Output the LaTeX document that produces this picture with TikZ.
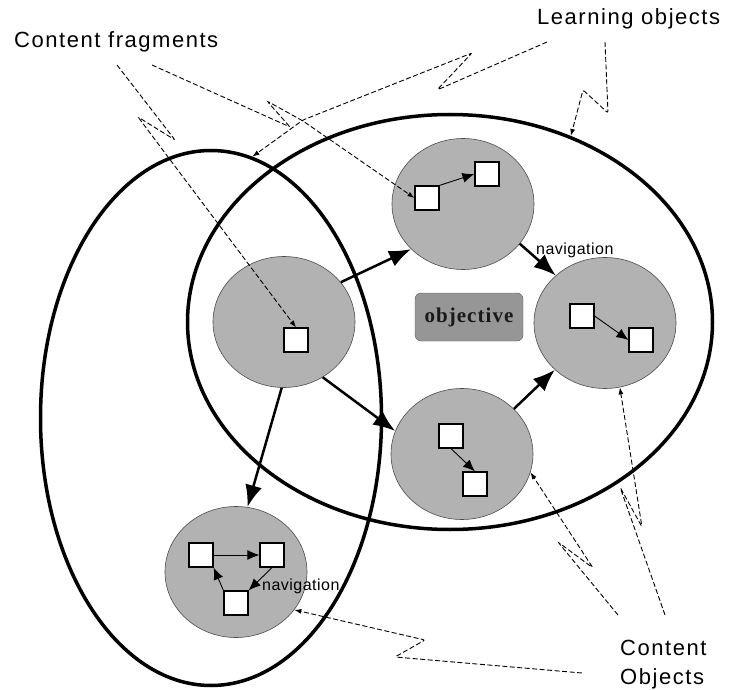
\documentclass[tikz,border=0pt]{standalone}
\usepackage{fontspec}
\setmainfont{Liberation Sans}
\newfontfamily\labelfont[LetterSpace=7]{Liberation Sans}
\newfontfamily\navfont[LetterSpace=3]{Liberation Sans}
\newfontfamily\goalfont[LetterSpace=5]{Liberation Serif}
\usetikzlibrary{shapes.geometric,arrows.meta}

\begin{document}
\begin{tikzpicture}[x=1pt,y=-1pt]
\useasboundingbox (0,0) rectangle (729,690);

\tikzstyle{every node}=[inner sep=0pt]
\tikzstyle{lobj}=[ellipse, draw, line width=3.5pt]
\tikzstyle{topic}=[ellipse, draw=black!70, line width=0.6pt, fill=black!30, minimum width=142pt, minimum height=131pt]
\tikzstyle{frag}=[draw, line width=1.2pt, fill=white, minimum size=24pt]
\tikzstyle{flow}=[->, >={Latex[length=22pt,width=17pt]}, line width=2.5pt]
\tikzstyle{link}=[->, >={Latex[length=12pt,width=10pt]}, line width=0.9pt]
\tikzstyle{callout}=[->, >={Latex[length=7pt,width=5pt]}, line width=0.9pt, dash pattern=on 5pt off 2.5pt, rounded corners=2pt]
\tikzstyle{bigtext}=[font=\labelfont\fontsize{22}{29}\selectfont]

% the two learning objects
\node[lobj, minimum width=525pt, minimum height=415pt] (lo1) at (450,322) {};
\node[lobj, minimum width=341pt, minimum height=535pt] (lo2) at (211,418) {};

% content objects
\node[topic] (c1) at (463,204) {};
\node[topic] (c2) at (284,322) {};
\node[topic] (c3) at (605,323) {};
\node[topic] (c4) at (462,454) {};
\node[topic] (c5) at (236,572) {};

\node[draw=black!65, fill=black!41, rounded corners=6pt, minimum width=108pt, minimum height=48pt,
      text=black!90, font=\goalfont\bfseries\fontsize{21}{24}\selectfont] (goal) at (469,317) {objective};

% content fragments
\node[frag] (s1a) at (427,198) {};
\node[frag] (s1b) at (487,174) {};
\node[frag] (s2) at (296,340) {};
\node[frag] (s3a) at (582,316) {};
\node[frag] (s3b) at (641,340) {};
\node[frag] (s4a) at (451,436) {};
\node[frag] (s4b) at (475,484) {};
\node[frag] (s5a) at (201,555) {};
\node[frag] (s5b) at (272,555) {};
\node[frag] (s5c) at (236,603) {};

\draw[link] (s1a.north east) -- (s1b.west);
\draw[link] (s3a.east) -- (s3b.west);
\draw[link] (s4a.south) -- (s4b.north);
\draw[link] (s5a.east) -- (s5b.west);
\draw[link] (s5b.south) -- (s5c.north east);
\draw[link] (s5c.north west) -- (s5a.south east);

% navigation between content objects
\draw[flow] (c2.35) -- (c1.-139);
\draw[flow] (c1.-35) -- (c3.136);
\draw[flow] (c2.-55) -- (c4.161);
\draw[flow] (c4.41) -- (c3.-137);
\draw[flow] (c2.-92) -- (c5.80);

\node[anchor=west, font=\navfont\fontsize{16}{18}\selectfont] (nav1) at (536,250) {navigation};
\node[anchor=west, font=\navfont\fontsize{16}{18}\selectfont] (nav2) at (262,586) {navigation};

% labels
\node[bigtext, anchor=base west] (cfrag) at (14,48) {Content fragments};
\node[bigtext, anchor=base west] (lobjs) at (537,25) {Learning objects};
\node[bigtext, anchor=north west, align=left] (cobjs) at (620,640) {Content\\Objects};

\coordinate (cf-a) at (117,65);
\coordinate (cf-b) at (152,65);
\coordinate (lo-a) at (547,42);
\coordinate (lo-b) at (605,42);
\coordinate (co-a) at (665,615);
\coordinate (co-b) at (618,615);
\coordinate (co-c) at (582,673);

\draw[callout] (cf-a) -- (175,140) -- (138,117) -- (s2.north);
\draw[callout] (cf-b) -- (290,127) -- (267,101) -- (303,121) -- (s1a.west);
\draw[callout] (lo-a) -- (437,90) -- (472,53) -- (303,120) -- (lo2.81);
\draw[callout] (lo-b) -- (608,113) -- (583,90) -- (lo1.57);
\draw[callout] (co-a) -- (620,487) -- (642,527) -- (c3.-77);
\draw[callout] (co-b) -- (558,542) -- (593,568) -- (c4.-15);
\draw[callout] (co-c) -- (395,657) -- (425,640) -- (c5.-33);

\end{tikzpicture}
\end{document}
